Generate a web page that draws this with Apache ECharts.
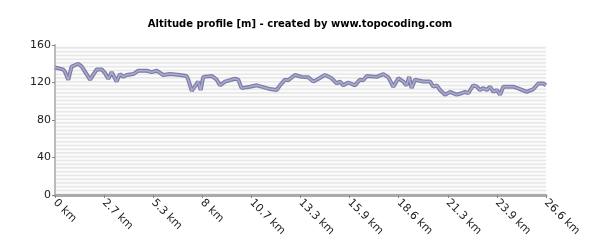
<!DOCTYPE html>
<html><head><meta charset="utf-8">
<script src="https://cdn.jsdelivr.net/npm/echarts@6/dist/echarts.min.js"></script>
<style>html,body{margin:0;padding:0;background:#fff}#c{width:600px;height:250px}</style>
</head><body><div id="c"></div>
<script>
const distanceKm = [0,0.43,0.54,0.72,0.90,1.26,1.45,1.90,2.26,2.53,2.71,2.89,3.07,3.34,3.52,3.70,3.88,4.24,4.51,4.97,5.24,5.51,5.87,6.23,6.77,7.13,7.22,7.41,7.58,7.76,7.89,8.03,8.49,8.76,8.94,9.21,9.75,9.93,10.11,10.56,10.93,11.28,11.65,12.01,12.19,12.46,12.64,13.00,13.36,13.72,13.99,14.18,14.63,14.99,15.26,15.44,15.62,15.89,16.25,16.52,16.70,16.89,17.43,17.79,18.06,18.33,18.60,18.87,19.05,19.19,19.32,19.41,19.50,19.95,20.32,20.50,20.68,20.86,21.13,21.40,21.76,22.03,22.21,22.39,22.66,22.85,23.02,23.21,23.39,23.57,23.75,23.93,24.11,24.29,24.83,25.19,25.56,25.92,26.18,26.45,26.6];
const altitudeM = [136,134,131.5,123,137,140,137,123,134,134,130,124,131,121,129,126,128,129,132.5,132.5,131,132.5,128,129,128,127,123,111,116,121,112,126,127,123,117,121,124,123,114,115.5,117,115,113,112,117,123,122.5,128,126,125.5,121,123,128,124.5,119,121,117,120,117,123,122.5,127,126,129,125.5,115.5,124.5,121,117,126,114,114,123,121,121,115.5,117,112,107,110,107,108.5,110,108.5,117,115.5,112,114,112,115.5,110,112,107,115.5,115.5,113,110,113,119,119,117];
const xTickLabels = ['0 km','2.7 km','5.3 km','8 km','10.7 km','13.3 km','15.9 km','18.6 km','21.3 km','23.9 km','26.6 km'];
const yTicks = [0,40,80,120,160];
const titleText = 'Altitude profile [m] - created by www.topocoding.com';

const pts = distanceKm.map((d,i)=>[d, altitudeM[i]]);
const xMax = 26.6, xStep = xMax/10;
const chart = echarts.init(document.getElementById('c'), null, {renderer:'canvas'});
chart.setOption({
  animation:false,
  backgroundColor:'#fff',
  title:{text:titleText,left:'center',top:14,textStyle:{fontFamily:'DejaVu Sans',fontSize:10,fontWeight:'bold',color:'#000'}},
  grid:{left:55,right:54,top:45,bottom:55},
  xAxis:{type:'value',min:0,max:xMax,interval:xStep,
    axisLine:{show:true,lineStyle:{color:'#aaaaaa',width:3}},
    axisTick:{show:true,length:3,lineStyle:{color:'#888'}},
    splitLine:{show:false},
    axisLabel:{rotate:-45,margin:6,fontFamily:'DejaVu Sans',fontSize:11,color:'#222',
      formatter:(v)=>xTickLabels[Math.round(v/xStep)]||''}},
  yAxis:[{type:'value',min:yTicks[0],max:yTicks[yTicks.length-1],interval:40,
    axisLine:{show:true,lineStyle:{color:'#bbbbbb',width:2}},
    axisTick:{show:true,length:3,lineStyle:{color:'#888'}},
    splitLine:{show:false},
    axisLabel:{margin:4,fontFamily:'DejaVu Sans',fontSize:11,color:'#222'}},
   {type:'value',min:0,max:160,interval:2,position:'left',show:true,
    axisLine:{show:false},axisTick:{show:false},axisLabel:{show:false},
    splitLine:{show:false},
    splitArea:{show:true,areaStyle:{color:['#e8e8e8','#fbfbfb']}}}],
  series:[
    {type:'line',data:pts,showSymbol:false,lineStyle:{color:'#7d7da5',width:4},z:2},
    {type:'line',data:pts,showSymbol:false,lineStyle:{color:'#ababd2',width:1.5},z:3}
  ]
});
</script></body></html>
